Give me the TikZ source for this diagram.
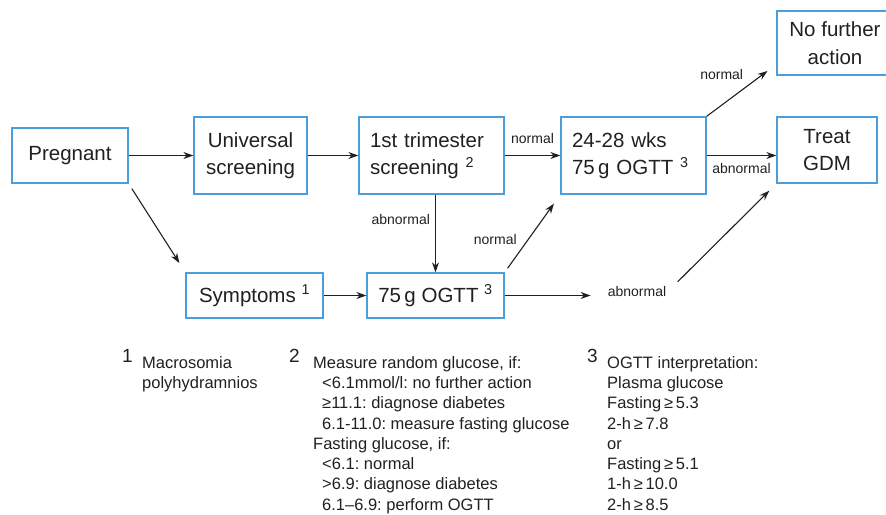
\documentclass[tikz,border=0pt]{standalone}
\usepackage{fontspec}
\setmainfont{Liberation Sans}
\usetikzlibrary{arrows.meta,positioning}
\definecolor{boxblue}{RGB}{76,158,218}
\definecolor{ink}{RGB}{35,31,32}
\frenchspacing

\begin{document}
\begin{tikzpicture}[x=1pt,y=-1pt,>={Stealth[length=10pt,width=7pt]},
  box/.style={draw=boxblue,line width=1.3pt,text=ink,inner sep=0pt,
    font=\fontsize{20.5}{27.5}\selectfont},
  lbox/.style={box,align=left,inner xsep=11pt,text width=123pt,minimum height=77pt},
  lbl/.style={text=ink,inner sep=2pt,font=\fontsize{14}{16}\selectfont},
  note/.style={text=ink,inner sep=0pt,align=left,anchor=north west,
    font=\fontsize{16.5}{20.3}\selectfont},
  num/.style={text=ink,inner sep=0pt,anchor=base west,font=\fontsize{19}{20}\selectfont}]
\useasboundingbox (0,0) rectangle (886,514);

\node[box,minimum width=116pt,minimum height=55pt] (preg) at (70,155.5) {Pregnant};
\node[box,align=center,minimum width=113pt,minimum height=77pt] (univ) at (250.5,155.5) {Universal\\screening};
\node[lbox] (first) at (431.5,155.5) {1st trimester\\screening \textsuperscript{2}};
\node[lbox] (wks) at (633.5,155.5) {24-28 wks\\75\,g OGTT \textsuperscript{3}};
\node[box,align=center,minimum width=116pt,minimum height=64pt] (nofurther) at (835,43) {No further\\action};
\node[box,align=center,minimum width=100pt,minimum height=66pt] (treat) at (827,150) {Treat\\GDM};
\node[box,minimum width=137pt,minimum height=45pt] (symp) at (254.5,295.5) {Symptoms \textsuperscript{1}};
\node[box,minimum width=137pt,minimum height=45pt] (ogtt) at (435.5,295.5) {75\,g OGTT \textsuperscript{3}};
\node[lbl] (abn) at (637,291) {abnormal};

\path[->,every edge/.style={draw=ink,line width=1.1pt}]
(preg) edge (univ)
(univ) edge (first)
(first) edge node[lbl,above=9pt] {normal} (wks)
(wks.east) edge node[lbl,below=5pt] {abnormal} (wks.east -| treat.west)
(wks.north east) edge[shorten >=11pt] node[lbl,pos=0.6,above left=4pt] {normal} (nofurther.-160)
(preg.south east) edge[shorten <=6pt,shorten >=11pt] (symp.north west)
(symp) edge (ogtt)
(ogtt.north |- first.south) edge node[lbl,pos=0.32,left=3pt] {abnormal} (ogtt.north)
(ogtt.north east) edge[shorten <=5pt,shorten >=11pt] node[lbl,pos=0.3,above left=3pt] {normal} (wks.south west)
(ogtt.east) edge[shorten >=15pt] (ogtt.east -| abn.west)
(abn.east) edge[shorten <=13pt,shorten >=10pt] (treat.south west);

% footnotes
\node[num] (n1) at (122,362) {1};
\node[note] (f1) at (142,356) {Macrosomia\\polyhydramnios};
\node[num] (n2) at (289,362) {2};
\node[note] (f2) at (313,356) {Measure random glucose, if:\\
  \hspace*{9pt}<6.1mmol/l: no further action\\
  \hspace*{9pt}≥11.1: diagnose diabetes\\
  \hspace*{9pt}6.1-11.0: measure fasting glucose\\
  Fasting glucose, if:\\
  \hspace*{9pt}<6.1: normal\\
  \hspace*{9pt}>6.9: diagnose diabetes\\
  \hspace*{9pt}6.1–6.9: perform OGTT};
\node[num] (n3) at (587,362) {3};
\node[note] (f3) at (607,356) {OGTT interpretation:\\
  Plasma glucose\\
  Fasting\,≥\,5.3\\
  2-h\,≥\,7.8\\
  or\\
  Fasting\,≥\,5.1\\
  1-h\,≥\,10.0\\
  2-h\,≥\,8.5};
\end{tikzpicture}
\end{document}
